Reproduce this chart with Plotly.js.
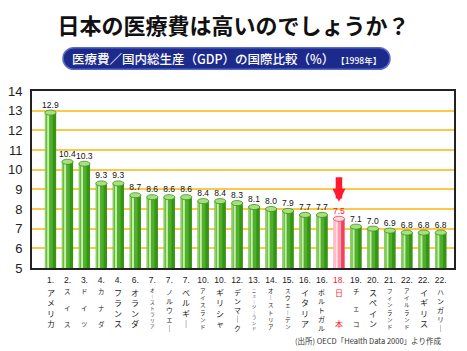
<!DOCTYPE html>
<html><head><meta charset="utf-8">
<script src="https://cdn.plot.ly/plotly-3.0.1.min.js"></script>
<style>html,body{margin:0;padding:0;background:#fff;}#chart{width:467px;height:351px;}</style>
</head><body><div id="chart"></div>
<script>
const names = ['アメリカ','スイス','ドイツ','カナダ','フランス','オランダ','オーストラリア','ノルウェー','ベルギー','アイスランド','ギリシャ','デンマーク','ニュージーランド','オーストリア','スウェーデン','イタリア','ポルトガル','日本','チェコ','スペイン','フィンランド','アイルランド','イギリス','ハンガリー'];
const ranks = [1,2,3,4,4,6,7,7,7,10,10,12,13,14,15,16,16,18,19,20,21,22,22,22];
const values = [12.9,10.4,10.3,9.3,9.3,8.7,8.6,8.6,8.6,8.4,8.4,8.3,8.1,8.0,7.9,7.7,7.7,7.5,7.1,7.0,6.9,6.8,6.8,6.8];
const yTickVals = [5,6,7,8,9,10,11,12,13,14];
const highlightName = '日本';
const titleText = '日本の医療費は高いのでしょうか？';
const subtitleText = '医療費／国内総生産（GDP）の国際比較（%）';
const subtitleYear = '【1998年】';
const sourceText = '(出所) OECD「Health Data 2000」より作成';

const idx = names.map((_, i) => i);
const isHi = names.map(n => n === highlightName);
const RED = '#ff1a2e';
const c = (hi, a, b) => isHi.map(h => h ? a : b);

const mainCol = c(0, '#ff9aab', '#4fb02c');
const darkCol = c(0, '#f0405a', '#389417');
const lightCol = c(0, '#ffe6ec', '#c6eda8');
const edgeCol = c(0, '#ffc4cf', '#8fd066');
const capFill = c(0, '#ffd9e0', '#a9df80');
const capLine = c(0, '#f0405a', '#389417');
const txtCol = c(0, RED, '#111');

const BW = 0.66;
const common = {x: idx, y: values, type: 'bar', hoverinfo: 'skip', showlegend: false};
const traces = [
  Object.assign({}, common, {width: BW, marker: {color: mainCol, line: {width: 0}},
    text: values.map(v => v.toFixed(1)), textposition: 'outside', cliponaxis: false, constraintext: 'none',
    textfont: {family: 'Liberation Sans, Arial', size: 8.5, color: txtCol}}),
  Object.assign({}, common, {width: 0.09, offset: -BW/2, marker: {color: edgeCol, line: {width: 0}}}),
  Object.assign({}, common, {width: 0.12, offset: -0.2, marker: {color: lightCol, line: {width: 0}}}),
  Object.assign({}, common, {width: 0.2, offset: BW/2 - 0.2, marker: {color: darkCol, line: {width: 0}}})
];

// vertical name labels
function vert(name) {
  const ch = Array.from(name.replace(/ー/g, '｜'));
  const n = ch.length;
  let lines, size;
  if (n <= 2) { lines = [ch[0], '', '', ch[1] || '']; size = 8; }
  else if (n === 3) { lines = [ch[0], '', ch[1], '', ch[2]]; size = 6.4; }
  else if (n === 4) { lines = ch; size = 8; }
  else { lines = ch; size = Math.max(4.2, 36 / (1.3 * (n - 1))); }
  return {text: lines.join('<br>'), size};
}
const annotations = names.map((n, i) => {
  const v = vert(n);
  return {x: i, xref: 'x', y: -0.1045, yref: 'paper', yanchor: 'top', xanchor: 'center', borderpad: 0,
    text: v.text, showarrow: false, font: {family: 'Noto Sans CJK JP', size: v.size, color: isHi[i] ? RED : '#222'}};
});
const hiIdx = isHi.indexOf(true);
annotations.push({x: hiIdx, y: values[hiIdx], xref: 'x', yref: 'y', text: '', showarrow: true,
  ax: 0, ay: -43, standoff: 17, arrowcolor: RED, arrowwidth: 6.5, arrowhead: 2, arrowsize: 0.4});
annotations.push({x: 0.4609, y: 1.1836, xref: 'paper', yref: 'paper', xanchor: 'center', yanchor: 'middle', showarrow: false,
  text: subtitleText + '<span style="font-size:8.5px"> ' + subtitleYear + '</span>',
  font: {family: 'Noto Sans CJK JP', size: 12.5, color: '#ffffff', weight: 500}});
annotations.push({x: 0.974, y: -0.41, xref: 'paper', yref: 'paper', xanchor: 'right', yanchor: 'middle', showarrow: false,
  text: sourceText, font: {family: 'Noto Sans CJK JP', size: 7.5, color: '#333'}});

// pill (pixel-sized path)
const W = 152.7, R = 10.8, K = 0.5523 * R;
const pillPath = `M ${-W},${-R} L ${W},${-R} C ${W+K},${-R} ${W+R},${-K} ${W+R},0 C ${W+R},${K} ${W+K},${R} ${W},${R} L ${-W},${R} C ${-W-K},${R} ${-W-R},${K} ${-W-R},0 C ${-W-R},${-K} ${-W-K},${-R} ${-W},${-R} Z`;
const shapes = [{type: 'path', xref: 'paper', yref: 'paper', xsizemode: 'pixel', ysizemode: 'pixel',
  xanchor: 0.4609, yanchor: 1.1836, path: pillPath, fillcolor: '#1c2a8c', line: {color: '#5a6ac8', width: 1.5}}];
values.forEach((v, i) => shapes.push({type: 'circle', xref: 'x', yref: 'y', x0: i - BW/2, x1: i + BW/2,
  y0: v - 0.13, y1: v + 0.13, fillcolor: capFill[i], line: {color: capLine[i], width: 0.8}}));

const layout = {
  width: 467, height: 351, margin: {l: 32, r: 13, t: 91, b: 83},
  paper_bgcolor: '#fff', plot_bgcolor: '#fff', barmode: 'overlay',
  title: {text: titleText, x: 0.5, xanchor: 'center', y: 0.926, yanchor: 'middle',
    font: {family: 'Noto Sans CJK JP', size: 22, color: '#111', weight: 'bold'}},
  xaxis: {range: [-1.09, 23.78], tickmode: 'array', tickvals: idx,
    ticktext: ranks.map((r, i) => isHi[i] ? `<span style="color:${RED}">${r}.</span>` : r + '.'),
    tickfont: {family: 'Liberation Sans, Arial', size: 8.5, color: '#222'}, ticks: '', showgrid: false,
    showline: true, linecolor: '#222', linewidth: 2, mirror: true, zeroline: false, ticklabelstandoff: 3},
  yaxis: {range: [5, 14], tickmode: 'array', tickvals: yTickVals, ticks: '',
    tickfont: {family: 'Liberation Sans, Arial', size: 13, color: '#222'},
    showgrid: true, gridcolor: '#fcc84a', gridwidth: 2, zeroline: false,
    showline: true, linecolor: '#222', linewidth: 2, mirror: true, ticklabelstandoff: 5},
  annotations, shapes
};
Plotly.newPlot('chart', traces, layout, {displayModeBar: false, staticPlot: true});
</script></body></html>
